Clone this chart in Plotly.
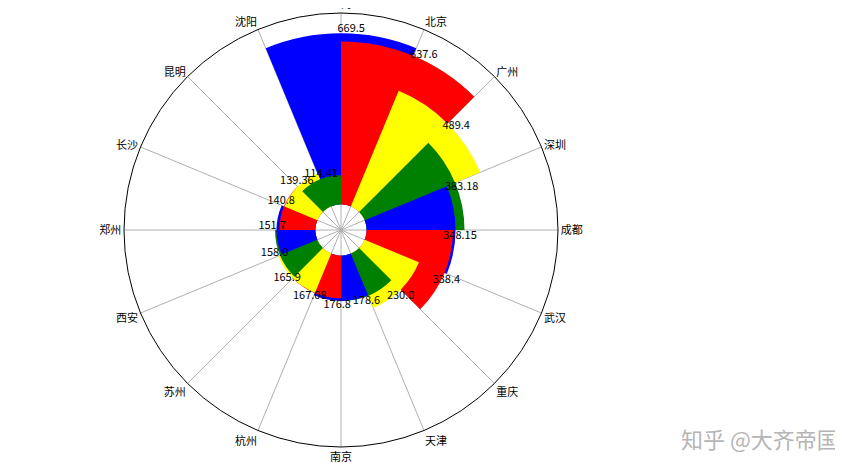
import plotly.graph_objects as go

# ---- data ----
cities = ["上海", "北京", "广州", "深圳", "成都", "武汉", "重庆", "天津",
          "南京", "杭州", "苏州", "西安", "郑州", "长沙", "昆明", "沈阳"]
values = [669.5, 637.6, 489.4, 383.18, 348.15, 338.4, 230.0, 178.6,
          176.8, 167.08, 165.9, 158.0, 151.7, 140.8, 139.36, 114.41]
palette = ["blue", "red", "yellow", "green"]

# ---- geometry / style ----
BASE = 100
R_MAX = 849
N = len(cities)
step = 360.0 / N
angles = [i * step for i in range(N)]
colors = [palette[i % 4] for i in range(N)]
FONT = "Noto Sans CJK SC, SimHei, sans-serif"

fig = go.Figure()
fig.add_trace(go.Barpolar(
    r=values, theta=angles, width=[2 * step] * N, base=BASE,
    marker=dict(color=colors, line=dict(width=0)),
    hoverinfo="skip", showlegend=False,
))
fig.add_trace(go.Scatterpolar(
    r=[BASE + v + 18 for v in values],
    theta=[a + 2.9 for a in angles],
    mode="text", text=[str(v) for v in values],
    textfont=dict(family=FONT, size=11, color="black"),
    textposition="middle center", hoverinfo="skip", showlegend=False,
))

cx, cy, R = 333, 222, 217
W, H = 843, 463
fig.update_layout(
    width=W, height=H,
    margin=dict(l=0, r=0, t=0, b=0),
    paper_bgcolor="white", plot_bgcolor="white",
    showlegend=False,
    polar=dict(
        domain=dict(x=[(cx - R) / W, (cx + R) / W],
                    y=[(H - cy - R) / H, (H - cy + R) / H]),
        bgcolor="white",
        radialaxis=dict(range=[0, R_MAX], visible=False, showgrid=False),
        angularaxis=dict(
            direction="clockwise", rotation=90,
            tickmode="array", tickvals=angles, ticktext=cities,
            showgrid=True, gridcolor="#b0b0b0", gridwidth=1,
            showline=True, linecolor="black", linewidth=1,
            ticks="", layer="below traces",
            tickfont=dict(family=FONT, size=11, color="black"),
        ),
    ),
    annotations=[dict(
        text="知乎 @大齐帝国", xref="paper", yref="paper",
        x=752 / W, y=1 - 430 / H, xanchor="center", yanchor="middle",
        showarrow=False,
        font=dict(family=FONT, size=22, color="#b5b5b5"),
    )],
)

fig.write_html("out.html")
